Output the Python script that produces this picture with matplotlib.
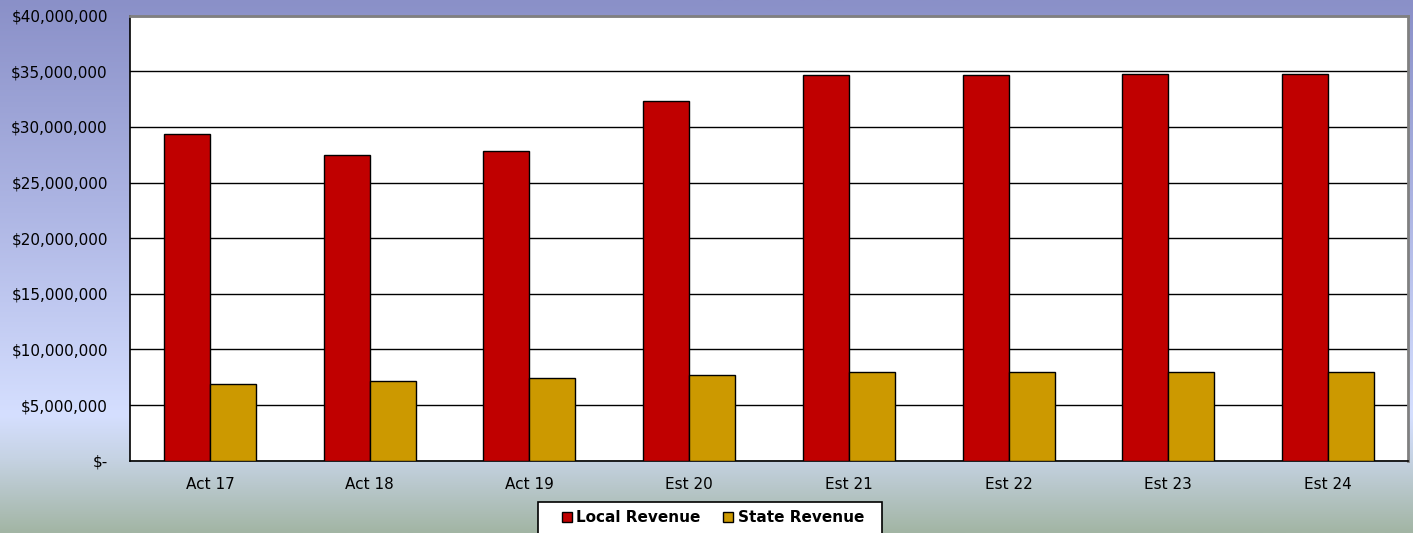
import numpy as np
import matplotlib
matplotlib.use("Agg")
import matplotlib.pyplot as plt
from matplotlib.colors import LinearSegmentedColormap
from matplotlib.patches import Patch, Rectangle
from matplotlib.ticker import FuncFormatter, MultipleLocator

categories = ["Act 17", "Act 18", "Act 19", "Est 20", "Est 21", "Est 22", "Est 23", "Est 24"]
local_revenue = [29410000, 27470000, 27830000, 32320000, 34680000, 34680000, 34790000, 34800000]
state_revenue = [6890000, 7160000, 7430000, 7700000, 7940000, 7940000, 7940000, 7940000]
series_names = ["Local Revenue", "State Revenue"]
series_colors = ["#C00000", "#CC9900"]

W, H = 1413, 533
fig = plt.figure(figsize=(W / 100, H / 100), dpi=100)

# background gradient
bg = fig.add_axes([0, 0, 1, 1], zorder=-10)
cmap = LinearSegmentedColormap.from_list(
    "bg",
    [(0.0, "#8A90C8"), (0.40, "#AEB6E4"), (0.78, "#D5DFFF"),
     (0.86, "#C6D3E4"), (1.0, "#A2B5A4")])
grad = np.linspace(0, 1, 256).reshape(-1, 1)
bg.imshow(grad, aspect="auto", cmap=cmap, extent=[0, 1, 0, 1], origin="upper")
bg.set_axis_off()

left, right = 130 / W, 1408 / W
bottom, top = 1 - 460.7 / H, 1 - 15.7 / H
ax = fig.add_axes([left, bottom, right - left, top - bottom])
ax.set_facecolor("white")

x = np.arange(len(categories))
bw = 0.2875
ax.bar(x - bw / 2, local_revenue, bw, color=series_colors[0], edgecolor="black",
       linewidth=1.0, zorder=3)
ax.bar(x + bw / 2, state_revenue, bw, color=series_colors[1], edgecolor="black",
       linewidth=1.0, zorder=3)

ax.set_xlim(-0.5, len(categories) - 0.5)
ax.set_ylim(0, 40000000)
ax.yaxis.set_major_locator(MultipleLocator(5000000))


def fmt(v, pos):
    if v == 0:
        return "$-"
    return "${:,.0f}".format(v)


ax.yaxis.set_major_formatter(FuncFormatter(fmt))
ax.set_xticks(x)
ax.set_xticklabels(categories)
ax.tick_params(axis="y", length=0, pad=16, labelsize=11, colors="black")
ax.tick_params(axis="x", length=0, pad=12, labelsize=11, colors="black")
ax.grid(axis="y", color="black", linewidth=1.0, zorder=1)
ax.set_axisbelow(True)
for s in ["left", "bottom"]:
    ax.spines[s].set_color("black")
    ax.spines[s].set_linewidth(1.2)
for s in ["top", "right"]:
    ax.spines[s].set_color("#808080")
    ax.spines[s].set_linewidth(2.0)

# legend box
fig.patches.append(Rectangle((538 / W, -0.05), (882 - 538) / W, 0.05 + (1 - 502 / H),
                             transform=fig.transFigure, facecolor="white",
                             edgecolor="black", linewidth=1.2, zorder=5))
handles = [Patch(facecolor=c, edgecolor="black", linewidth=1.0) for c in series_colors]
leg = fig.legend(handles, series_names, loc="center", ncol=2,
                 bbox_to_anchor=(713 / W, 1 - 518 / H), frameon=False,
                 prop={"weight": "bold", "size": 11}, handlelength=0.65,
                 handleheight=0.65, handletextpad=0.3, columnspacing=1.5,
                 borderpad=0.0)
leg.set_zorder(6)

fig.savefig("out.png", dpi=100)
